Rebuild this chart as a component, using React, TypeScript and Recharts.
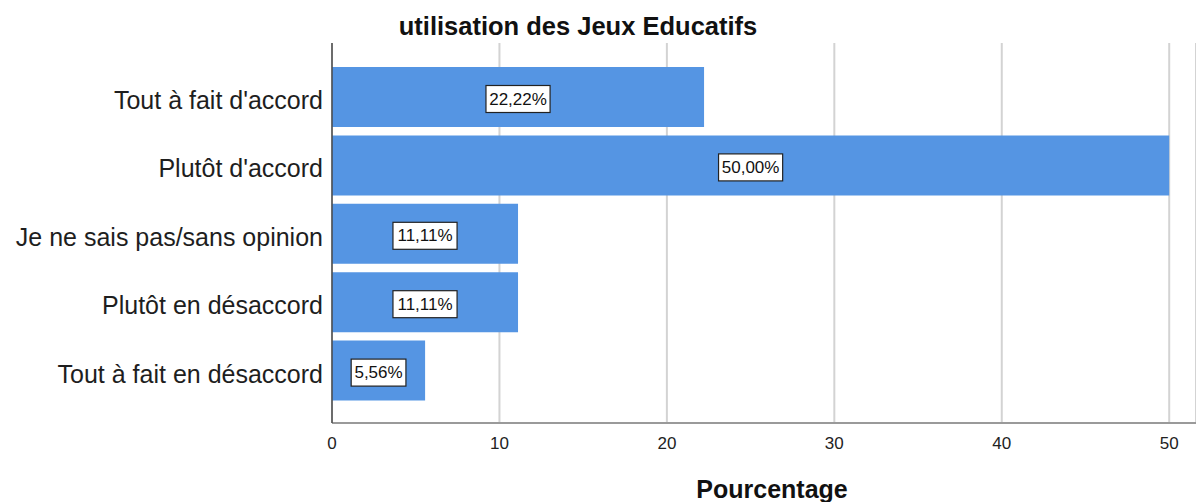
import React from 'react';
import { BarChart, Bar, XAxis, YAxis, CartesianGrid, LabelList } from 'recharts';

const categories: string[] = [
  "Tout à fait d'accord",
  "Plutôt d'accord",
  'Je ne sais pas/sans opinion',
  'Plutôt en désaccord',
  'Tout à fait en désaccord',
];
const percentages: number[] = [22.22, 50.0, 11.11, 11.11, 5.56];
const xTicks: number[] = [0, 10, 20, 30, 40, 50];

const title = 'utilisation des Jeux Educatifs';
const xTitle = 'Pourcentage';

const data = categories.map((c, i) => ({ name: c, value: percentages[i] }));

const FONT = '"Liberation Sans", Arial, sans-serif';
const BAR_COLOR = '#5595E3';

const fmt = (v: number) => v.toFixed(2).replace('.', ',') + '%';

const BoxLabel = (props: any) => {
  const { x, y, width, height, value } = props;
  const text = fmt(Number(value));
  const fs = 17;
  const tw = text.length * fs * 0.55;
  const bw = tw + 8;
  const bh = 27;
  const cx = Number(x) + Number(width) / 2;
  const cy = Number(y) + Number(height) / 2 + 2;
  return (
    <g>
      <rect x={cx - bw / 2} y={cy - bh / 2} width={bw} height={bh} fill="#ffffff" stroke="#222" strokeWidth={1.2} />
      <text x={cx} y={cy} textAnchor="middle" dominantBaseline="central" fontFamily={FONT} fontSize={fs} fill="#111">
        {text}
      </text>
    </g>
  );
};

export default function App() {
  return (
    <div style={{ position: 'absolute', left: 0, top: 0, width: 1196, height: 502, background: '#fff' }}>
      <BarChart
        width={1196}
        height={502}
        data={data}
        layout="vertical"
        margin={{ top: 43, right: 0, bottom: 0, left: 0 }}
        barCategoryGap={4}
      >
        <CartesianGrid horizontal={false} vertical={true} stroke="#d3d3d3" strokeWidth={2} />
        <XAxis
          type="number"
          domain={[0, 51.6]}
          ticks={xTicks}
          allowDataOverflow
          height={79}
          tickLine={false}
          tickMargin={8}
          axisLine={{ stroke: '#9a9a9a', strokeWidth: 2 }}
          tick={{ fontFamily: FONT, fontSize: 17, fill: '#222' }}
        />
        <YAxis
          type="category"
          dataKey="name"
          width={332}
          tickLine={false}
          tickMargin={3}
          padding={{ top: 20, bottom: 18 }}
          axisLine={{ stroke: '#4a4a4a', strokeWidth: 1.5 }}
          tick={{ fontFamily: FONT, fontSize: 25, fill: '#1e1e1e', dy: 3 }}
          interval={0}
        />
        <Bar dataKey="value" fill={BAR_COLOR} isAnimationActive={false}>
          <LabelList dataKey="value" content={BoxLabel} />
        </Bar>
      </BarChart>
      <svg width={1196} height={502} style={{ position: 'absolute', left: 0, top: 0, pointerEvents: 'none' }}>
        <text x={578} y={35} textAnchor="middle" fontFamily={FONT} fontWeight="bold" fontSize={25.5} fill="#111">
          {title}
        </text>
        <text x={772} y={498} textAnchor="middle" fontFamily={FONT} fontWeight="bold" fontSize={25} fill="#111">
          {xTitle}
        </text>
      </svg>
    </div>
  );
}
